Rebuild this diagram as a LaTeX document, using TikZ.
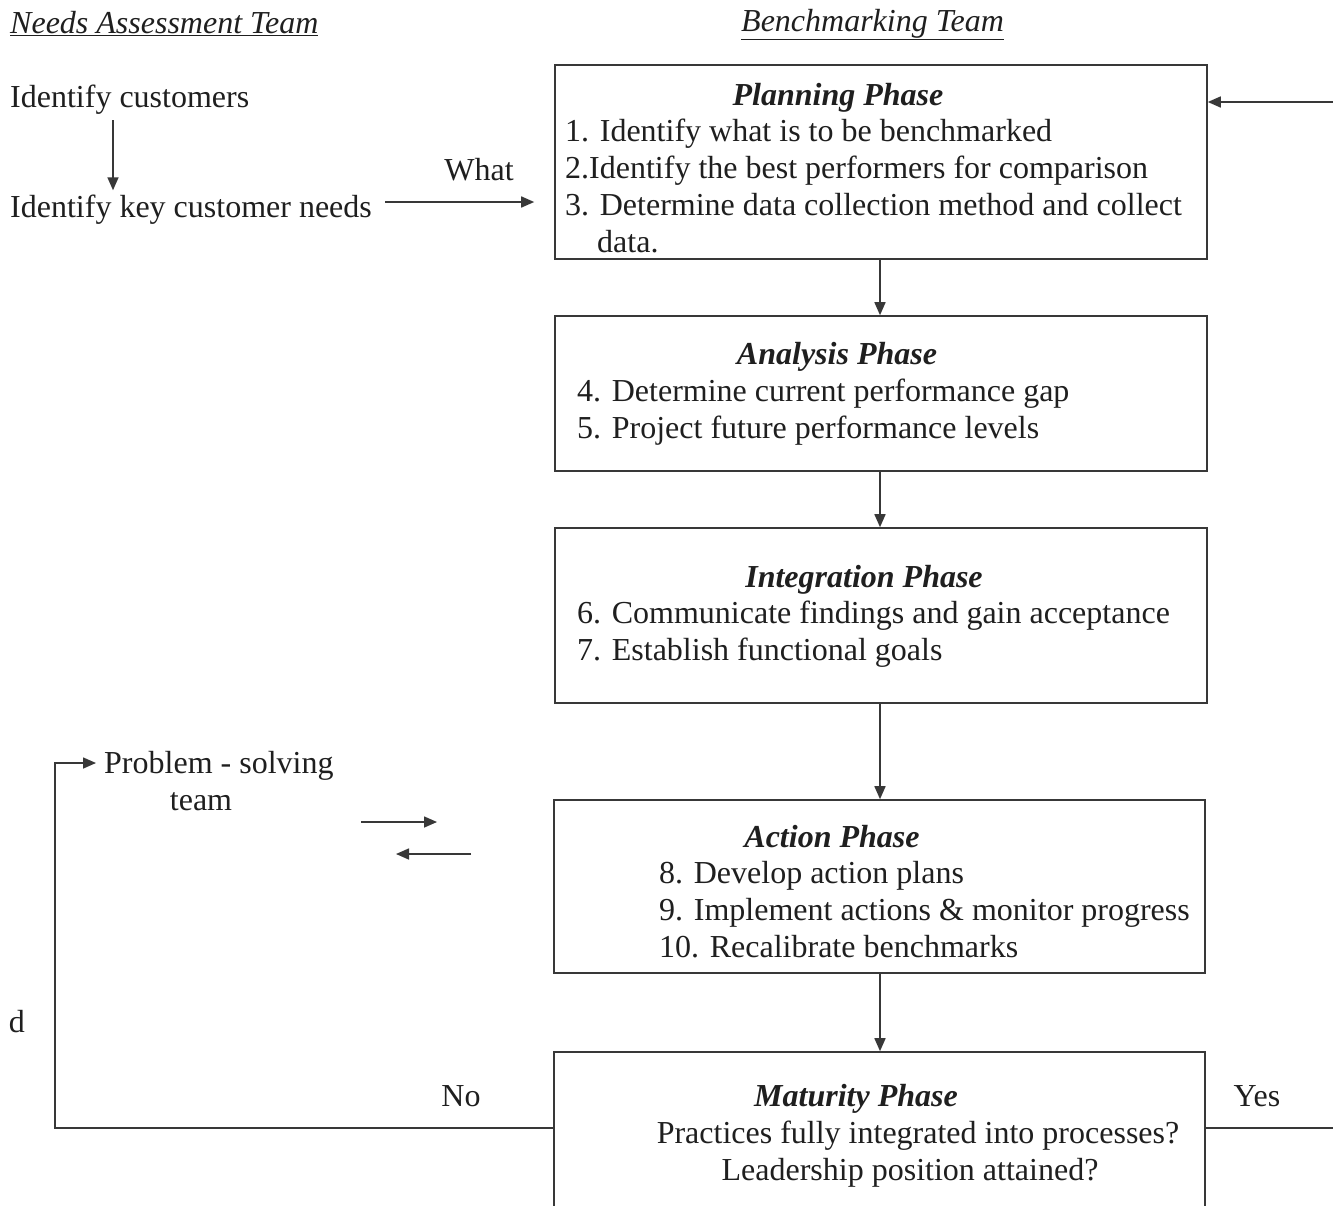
\documentclass[tikz,border=0pt]{standalone}
\usepackage{fontspec}
\setmainfont{Liberation Serif}
\usetikzlibrary{arrows.meta}
\definecolor{ink}{gray}{0.12}
\definecolor{rule}{gray}{0.22}
\begin{document}
\begin{tikzpicture}[x=1pt,y=-1pt,
  every node/.style={font=\fontsize{32}{37}\selectfont, inner sep=0pt, text=ink},
  phase/.style={draw=rule, line width=1.6pt, rectangle, inner sep=0pt},
  txt/.style={anchor=base west},
  ctr/.style={anchor=base},
  ttl/.style={anchor=base, font=\fontsize{32}{37}\selectfont\bfseries\itshape},
  hdr/.style={anchor=base west, font=\fontsize{32}{37}\selectfont\itshape},
  line/.style={draw=rule, line width=1.6pt},
  link/.style={line, -{Triangle[length=13pt,width=11pt]}},
]
\clip (0,0) rectangle (1333,1205);
\fill[white] (0,0) rectangle (1333,1205);

% column headings
\node[hdr] (hna) at (10,33) {\underline{Needs Assessment Team}};
\node[hdr] (hbt) at (741,31) {\underline{Benchmarking Team}};

% needs assessment column
\node[txt] (cust) at (10,107) {Identify customers};
\node[txt] (need) at (10,217) {Identify key customer needs};
\node[ctr] (what) at (479,180) {What};
\coordinate (arrx) at (113,0);
\draw[link, shorten <=6pt, shorten >=4pt] (cust.south -| arrx) -- (need.north -| arrx);

% phase boxes
\node[phase, minimum width=652pt, minimum height=194pt] (plan) at (881,162) {};
\node[phase, minimum width=652pt, minimum height=155pt] (anal) at (881,393.5) {};
\node[phase, minimum width=652pt, minimum height=175pt] (intg) at (881,615.5) {};
\node[phase, minimum width=651pt, minimum height=173pt] (actn) at (879.5,886.5) {};
\node[phase, minimum width=651pt, minimum height=178pt] (matu) at (879.5,1141) {};

% planning phase
\node[ttl] (pt) at (838,105) {Planning Phase};
\node[txt] (p1) at (565,141) {1. Identify what is to be benchmarked};
\node[txt] (p2) at (565,178) {2.Identify the best performers for comparison};
\node[txt] (p3) at (565,215) {3. Determine data collection method and collect};
\node[txt] (p4) at (597,252) {data.};

% analysis phase
\node[ttl] (at) at (837,364) {Analysis Phase};
\node[txt] (a4) at (577,401) {4. Determine current performance gap};
\node[txt] (a5) at (577,438) {5. Project future performance levels};

% integration phase
\node[ttl] (it) at (864,587) {Integration Phase};
\node[txt] (i6) at (577,623) {6. Communicate findings and gain acceptance};
\node[txt] (i7) at (577,660) {7. Establish functional goals};

% action phase
\node[ttl] (ct) at (832,847) {Action Phase};
\node[txt] (c8) at (659,883) {8. Develop action plans};
\node[txt] (c9) at (659,920) {9. Implement actions \& monitor progress};
\node[txt] (c10) at (659,957) {10. Recalibrate benchmarks};

% maturity phase
\node[ttl] (mt) at (856,1106) {Maturity Phase};
\node[ctr] (m1) at (918,1143) {Practices fully integrated into processes?};
\node[ctr] (m2) at (910,1180) {Leadership position attained?};

% flow between phases
\draw[link] (plan.south -| 880,0) -- (anal.north -| 880,0);
\draw[link] (anal.south -| 880,0) -- (intg.north -| 880,0);
\draw[link] (intg.south -| 880,0) -- (actn.north -| 880,0);
\draw[link] (actn.south -| 880,0) -- (matu.north -| 880,0);

% customer needs feed the planning phase
\coordinate (wy) at (0,202);
\draw[link, shorten <=13pt, shorten >=20pt] (need.east |- wy) -- (plan.west |- wy);

% return from the right into planning
\coordinate (inR) at (1333,102);
\draw[link] (inR) -- (plan.east |- inR);

% problem-solving team
\node[txt] (prob) at (104,773) {Problem - solving};
\node[ctr] (team) at (201,810) {team};
\coordinate (a1) at (361,822);
\coordinate (a2) at (437,822);
\coordinate (b1) at (471,854);
\coordinate (b2) at (396,854);
\draw[link] (a1) -- (a2);
\draw[link] (b1) -- (b2);

% decision outcomes
\node[ctr] (dd) at (17,1032) {d};
\node[ctr] (no) at (461,1106) {No};
\node[ctr] (yes) at (1257,1106) {Yes};
\coordinate (yline) at (0,1128);
\coordinate (outR) at (1333,1128);
\coordinate (ps) at (96,763);
\draw[line] (matu.east |- yline) -- (outR);
\draw[link] (matu.west |- yline) -- (55,1128) |- (ps);
\end{tikzpicture}
\end{document}
